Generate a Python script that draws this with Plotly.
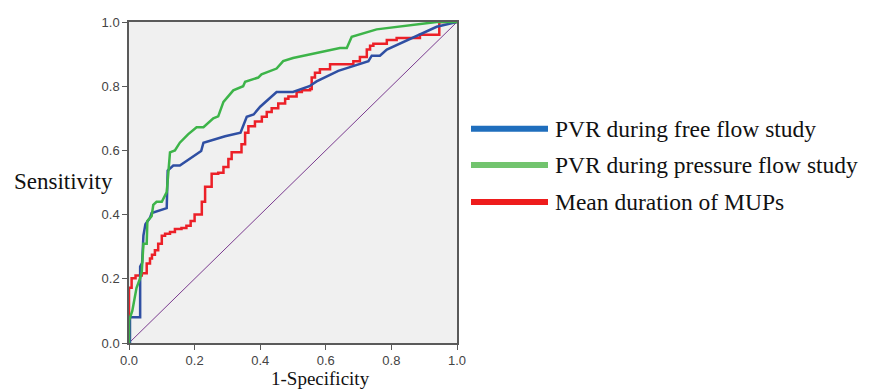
import plotly.graph_objects as go

# ---- data ----
free_x = [0, 0.003, 0.003, 0.034, 0.034, 0.04, 0.044, 0.05, 0.064, 0.069, 0.115, 0.118, 0.135, 0.155,
          0.22, 0.227, 0.293, 0.318, 0.34, 0.359, 0.38, 0.40, 0.45, 0.50, 0.55, 0.572, 0.638, 0.669,
          0.73, 0.74, 0.765, 0.786, 0.938, 1.0]
free_y = [0, 0, 0.08, 0.08, 0.238, 0.25, 0.335, 0.37, 0.39, 0.405, 0.42, 0.537, 0.553, 0.553,
          0.598, 0.624, 0.644, 0.649, 0.655, 0.705, 0.712, 0.736, 0.782, 0.782, 0.80, 0.815, 0.848, 0.858,
          0.878, 0.895, 0.895, 0.914, 0.985, 1.0]

press_x = [0, 0, 0.01, 0.023, 0.034, 0.039, 0.044, 0.054, 0.056, 0.069, 0.074, 0.084, 0.10, 0.115,
           0.125, 0.14, 0.155, 0.18, 0.206, 0.227, 0.257, 0.272, 0.288, 0.318, 0.348, 0.354, 0.394,
           0.404, 0.45, 0.47, 0.50, 0.643, 0.664, 0.679, 0.755, 0.938, 1.0]
press_y = [0, 0.07, 0.10, 0.172, 0.202, 0.223, 0.309, 0.309, 0.38, 0.395, 0.43, 0.44, 0.44, 0.47,
           0.594, 0.60, 0.624, 0.65, 0.672, 0.672, 0.70, 0.706, 0.751, 0.787, 0.80, 0.814, 0.827,
           0.837, 0.855, 0.878, 0.888, 0.919, 0.919, 0.954, 0.977, 1.0, 1.0]

mup_x = [0, 0, 0.008, 0.02, 0.039, 0.054, 0.064, 0.07, 0.079, 0.089, 0.10, 0.11, 0.125, 0.14, 0.16,
         0.175, 0.188, 0.20, 0.222, 0.232, 0.252, 0.272, 0.288, 0.303, 0.313, 0.343, 0.354, 0.364,
         0.384, 0.405, 0.42, 0.435, 0.455, 0.476, 0.486, 0.511, 0.527, 0.552, 0.557, 0.567, 0.582,
         0.613, 0.684, 0.704, 0.725, 0.735, 0.745, 0.786, 0.816, 0.887, 0.946, 1.0]
mup_y = [0, 0.172, 0.202, 0.21, 0.217, 0.248, 0.263, 0.275, 0.289, 0.309, 0.334, 0.34, 0.346, 0.355, 0.358,
         0.365, 0.38, 0.40, 0.44, 0.487, 0.527, 0.53, 0.548, 0.573, 0.594, 0.619, 0.655, 0.675,
         0.69, 0.705, 0.72, 0.731, 0.746, 0.761, 0.768, 0.782, 0.787, 0.791, 0.827, 0.842, 0.853,
         0.868, 0.878, 0.891, 0.914, 0.926, 0.932, 0.944, 0.95, 0.96, 1.0, 1.0]

ref_x = [0, 1]
ref_y = [0, 1]

tick_vals = [0.0, 0.2, 0.4, 0.6, 0.8, 1.0]
tick_text = ["0.0", "0.2", "0.4", "0.6", "0.8", "1.0"]

series_names = ["PVR during free flow study", "PVR during pressure flow study", "Mean duration of MUPs"]
legend_colors = ["#1f6ebd", "#72c46e", "#ee1c1c"]

# ---- layout geometry (screen pixels; page body has an 8px margin) ----
OFF = 8
W, H = 874 - OFF, 390 - OFF
L, R, T, B = 129 - OFF, 457 - OFF, 15 - OFF, 343 - OFF


def px(xp):
    return (xp - OFF - L) / (R - L)


def py(yp):
    return (B - (yp - OFF)) / (B - T)


fig = go.Figure()
fig.add_trace(go.Scatter(x=ref_x, y=ref_y, mode="lines", line=dict(color="#7a3b8f", width=1),
                         showlegend=False, hoverinfo="skip"))
fig.add_trace(go.Scatter(x=mup_x, y=mup_y, mode="lines", line=dict(color="#ec2028", width=2.5, shape="hv"),
                         name=series_names[2], showlegend=False, cliponaxis=False))
fig.add_trace(go.Scatter(x=free_x, y=free_y, mode="lines", line=dict(color="#2f4fa3", width=2.5),
                         name=series_names[0], showlegend=False, cliponaxis=False))
fig.add_trace(go.Scatter(x=press_x, y=press_y, mode="lines", line=dict(color="#3db449", width=2.5),
                         name=series_names[1], showlegend=False, cliponaxis=False))

axis_common = dict(range=[0, 1], showgrid=False, zeroline=False, showline=True, linecolor="#5a5a5a",
                   linewidth=1.5, mirror=True, ticks="outside", ticklen=5, tickcolor="#5a5a5a",
                   tickvals=tick_vals, ticktext=tick_text,
                   tickfont=dict(family="Liberation Sans, Arial", size=13, color="#444444"))
fig.update_layout(
    width=W, height=H,
    margin=dict(l=L, r=W - R, t=T, b=H - B),
    paper_bgcolor="white", plot_bgcolor="#f0f0f0",
    xaxis=dict(**axis_common),
    yaxis=dict(**axis_common),
)

serif = "Liberation Serif, Times New Roman, serif"
# axis titles
fig.add_annotation(x=px(63), y=py(178), xref="paper", yref="paper", text="Sensitivity", showarrow=False,
                   font=dict(family=serif, size=23, color="#111111"), xanchor="center", yanchor="middle")
fig.add_annotation(x=px(320), y=py(379), xref="paper", yref="paper", text="1-Specificity", showarrow=False,
                   font=dict(family=serif, size=19, color="#111111"), xanchor="center", yanchor="middle",
                   borderpad=0)

# legend drawn as shapes + text
leg_y = [124, 161, 199]
for name, col, yy in zip(series_names, legend_colors, leg_y):
    fig.add_shape(type="line", xref="paper", yref="paper", x0=px(471), x1=px(548), y0=py(yy), y1=py(yy),
                  line=dict(color=col, width=6))
    fig.add_annotation(x=px(553), y=py(yy), xref="paper", yref="paper", text=name, showarrow=False,
                       font=dict(family=serif, size=23.5, color="#111111"), xanchor="left", yanchor="middle")

fig.write_html("out.html")
